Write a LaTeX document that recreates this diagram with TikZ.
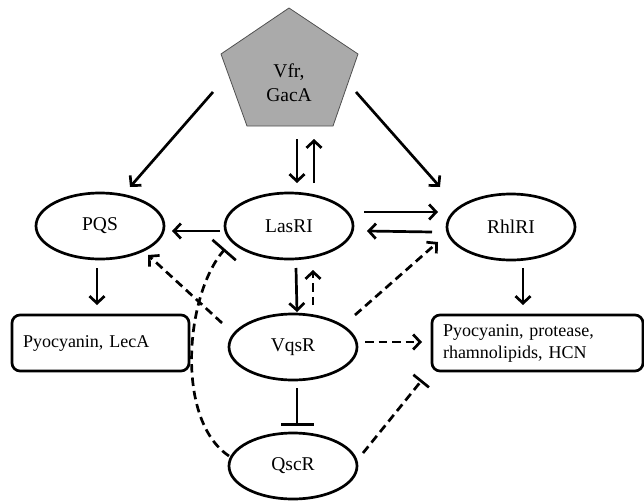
\documentclass[tikz,border=0pt]{standalone}
\usepackage{fontspec}
\setmainfont{Liberation Serif}
\usetikzlibrary{shapes.geometric,arrows.meta,calc}
\tikzset{
  ell/.style={draw, ellipse, line width=2.7pt, minimum width=128pt, minimum height=66pt, inner sep=0pt, font=\fontsize{19.5}{22}\selectfont},
  outbox/.style={draw, rounded corners=8pt, line width=2.7pt, minimum height=56pt, inner xsep=11pt, inner ysep=0pt, align=left, font=\fontsize{18}{22}\selectfont},
  act/.style={line width=2.7pt, -{Straight Barb[length=7pt,width=15pt,line width=2.7pt]}},
  dact/.style={act, dash pattern=on 8.5pt off 5pt},
  inh/.style={line width=2.7pt, -{Bar[width=33pt,line width=2.7pt]}},
  dinh/.style={line width=2.7pt, dash pattern=on 8.5pt off 5pt},
}
\begin{document}
\begin{tikzpicture}[x=1pt,y=-1pt]
\useasboundingbox (0,0) rectangle (644,500);
% pentagon
\draw[fill={rgb,255:red,170;green,170;blue,170}, draw={rgb,255:red,80;green,80;blue,80}, line width=0.8pt]
  (289,8) -- (358,54) -- (333,126) -- (247,126) -- (221,54) -- cycle;
\node[align=center, font=\fontsize{19.5}{24}\selectfont] (vfr) at (289,83) {Vfr,\\GacA};
% ellipses
\node[ell] (pqs) at (100,226) {PQS};
\node[ell] (las) at (289,226) {LasRI};
\node[ell] (rhl) at (511,227) {RhlRI};
\node[ell] (vqs) at (293,347) {VqsR};
\node[ell] (qsc) at (293,466) {QscR};
% boxes
\node[outbox, minimum width=177pt, text width=155pt] (box1) at (100.5,343) {Pyocyanin, LecA};
\node[outbox, minimum width=211pt, text width=189pt] (box2) at (537.5,343) {Pyocyanin, protease,\\rhamnolipids, HCN};
% pentagon arrows
\draw[act] ($(vfr)+(-76,9)$) -- ($(pqs)+(30,-39)$);
\draw[act] ($(vfr)+(67,9)$) -- ($(rhl)+(-71,-40)$);
\draw[act] ($(vfr)+(8,56)$) -- ($(las)+(8,-43)$);
\draw[act] ($(las)+(25,-43)$) -- ($(vfr)+(25,56)$);
% LasRI interactions
\draw[act] ($(las)+(-69,5)$) -- ($(pqs)+(72,5)$);
\draw[act] ($(las)+(75,-14)$) -- ($(rhl)+(-73,-15)$);
\draw[act] ($(rhl)+(-79,5)$) -- ($(las)+(78,5)$);
\draw[act] ($(las)+(7,42)$) -- ($(vqs)+(4,-35)$);
\draw[dact] ($(vqs)+(20,-42)$) -- ($(las)+(24,44)$);
% outputs
\draw[act] ($(pqs)+(-3,42)$) -- ($(box1)+(-3.5,-38)$);
\draw[act] ($(rhl)+(12,41)$) -- ($(box2)+(-14.5,-38)$);
% VqsR dashed
\draw[dact] ($(vqs)+(-71,-24)$) -- ($(pqs)+(48,29)$);
\draw[dact] ($(vqs)+(62,-32)$) -- ($(rhl)+(-73,15)$);
\draw[dact] ($(vqs)+(72,-5)$) -- ($(box2)+(-115.5,-1)$);
% inhibitions
\draw[inh] ($(vqs)+(4,41)$) -- ($(qsc)+(4,-40)$);
\draw[dinh, -{Bar[width=20pt,line width=2.7pt]}] ($(qsc)+(70,-13)$) -- ($(box2)+(-115.5,37)$);
\draw[dinh, -{Bar[width=31pt,line width=2.7pt]}] ($(qsc)+(-64,-10)$) .. controls (175,420) and (185,295) .. ($(las)+(-64,23)$);
\end{tikzpicture}
\end{document}
